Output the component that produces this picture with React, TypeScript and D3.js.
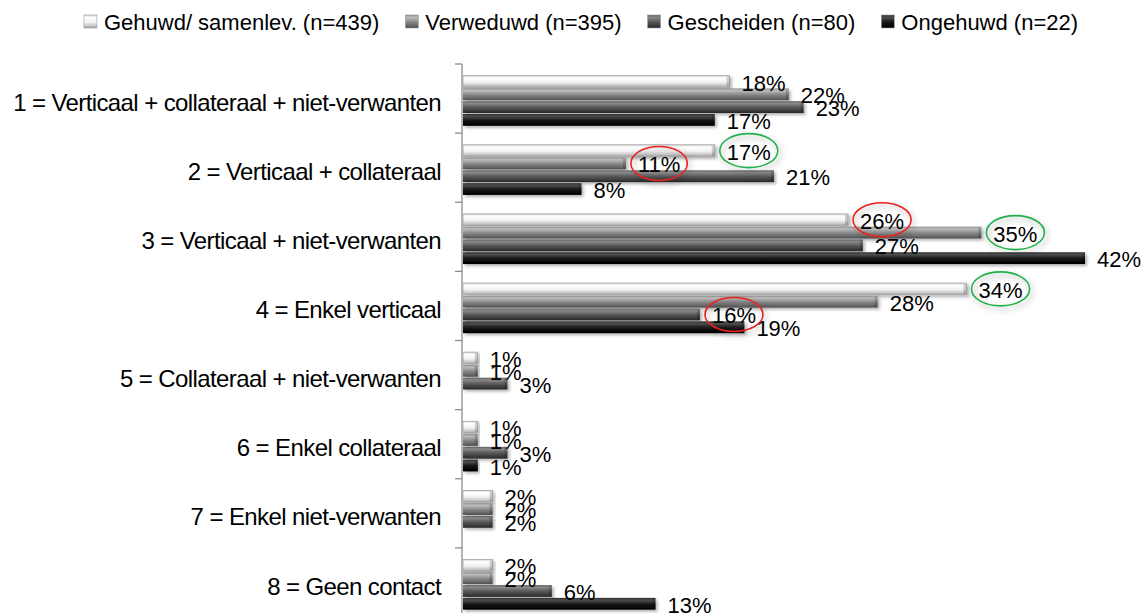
import React, { useEffect, useRef } from "react";
import * as d3 from "d3";

const categories = [
  "1 = Verticaal + collateraal + niet-verwanten",
  "2 = Verticaal + collateraal",
  "3 = Verticaal + niet-verwanten",
  "4 = Enkel verticaal",
  "5 = Collateraal + niet-verwanten",
  "6 = Enkel collateraal",
  "7 = Enkel niet-verwanten",
  "8 = Geen contact",
];

const seriesNames = [
  "Gehuwd/ samenlev. (n=439)",
  "Verweduwd (n=395)",
  "Gescheiden (n=80)",
  "Ongehuwd (n=22)",
];

const gehuwd = [18, 17, 26, 34, 1, 1, 2, 2];
const verweduwd = [22, 11, 35, 28, 1, 1, 2, 2];
const gescheiden = [23, 21, 27, 16, 3, 3, 2, 6];
const ongehuwd = [17, 8, 42, 19, 0, 1, 0, 13];

const seriesValues = [gehuwd, verweduwd, gescheiden, ongehuwd];

// highlighted labels: [category index, series index, colour]
const highlights: [number, number, string][] = [
  [1, 0, "#22b14c"],
  [1, 1, "#e8231f"],
  [2, 0, "#e8231f"],
  [2, 1, "#22b14c"],
  [3, 0, "#22b14c"],
  [3, 2, "#e8231f"],
];

const gradients = [
  [["0", "#cfcfcf"], ["0.18", "#ffffff"], ["0.55", "#f2f2f2"], ["0.85", "#c4c4c4"], ["1", "#9a9a9a"]],
  [["0", "#8c8c8c"], ["0.18", "#bdbdbd"], ["0.55", "#868686"], ["0.85", "#646464"], ["1", "#4a4a4a"]],
  [["0", "#5e5e5e"], ["0.18", "#8a8a8a"], ["0.55", "#555555"], ["0.85", "#383838"], ["1", "#262626"]],
  [["0", "#2a2a2a"], ["0.18", "#505050"], ["0.55", "#161616"], ["0.85", "#050505"], ["1", "#000000"]],
];

const W = 1144;
const H = 613;

export default function App() {
  const ref = useRef<SVGSVGElement | null>(null);

  useEffect(() => {
    const svg = d3.select(ref.current);
    svg.selectAll("*").remove();
    const font = "'Liberation Sans', Arial, Helvetica, sans-serif";

    const defs = svg.append("defs");
    gradients.forEach((stops, i) => {
      const g = defs
        .append("linearGradient")
        .attr("id", "grad" + i)
        .attr("x1", 0)
        .attr("y1", 0)
        .attr("x2", 0)
        .attr("y2", 1);
      stops.forEach(([o, c]) => g.append("stop").attr("offset", o).attr("stop-color", c));
    });
    const sh = defs.append("filter").attr("id", "shadow").attr("x", "-10%").attr("y", "-50%").attr("width", "120%").attr("height", "220%");
    sh.append("feDropShadow").attr("dx", 2).attr("dy", 2).attr("stdDeviation", 1.6).attr("flood-color", "#000").attr("flood-opacity", 0.3);
    const esh = defs.append("filter").attr("id", "eshadow").attr("x", "-40%").attr("y", "-40%").attr("width", "180%").attr("height", "200%");
    esh.append("feDropShadow").attr("dx", 2).attr("dy", 3).attr("stdDeviation", 3).attr("flood-color", "#000").attr("flood-opacity", 0.35);

    const x = d3.scaleLinear().domain([0, 45]).range([463, 463 + 45 * 14.81]);
    const y0 = d3
      .scaleBand<string>()
      .domain(categories)
      .range([64, 617])
      .paddingInner(0.26)
      .paddingOuter(0.13)
      .align(0.62);
    const y1 = d3
      .scaleBand<number>()
      .domain(d3.range(seriesNames.length))
      .range([0, y0.bandwidth()]);
    const step = y0.step();

    // axis
    const ax = svg.append("g");
    ax.append("line")
      .attr("x1", 462).attr("x2", 462)
      .attr("y1", 64).attr("y2", H)
      .attr("stroke", "#8c8c8c").attr("stroke-width", 1.3);
    d3.range(categories.length + 1).forEach((i) => {
      const ty = 64 + i * step;
      ax.append("line")
        .attr("x1", 455).attr("x2", 462)
        .attr("y1", ty).attr("y2", ty)
        .attr("stroke", "#8c8c8c").attr("stroke-width", 1.3);
    });

    // category labels
    svg.append("g")
      .selectAll("text")
      .data(categories)
      .join("text")
      .attr("x", 441)
      .attr("y", (d) => (y0(d) as number) + y0.bandwidth() / 2 + 10)
      .attr("text-anchor", "end")
      .attr("font-family", font)
      .attr("font-size", 24)
      .attr("letter-spacing", "-0.6")
      .attr("fill", "#000")
      .text((d) => d);

    // bars
    const bars = svg.append("g");
    categories.forEach((c, ci) => {
      seriesValues.forEach((vals, si) => {
        const v = vals[ci];
        if (!v) return;
        const by = (y0(c) as number) + (y1(si) as number);
        const bh = y1.bandwidth();
        bars.append("rect")
          .attr("x", x(0))
          .attr("y", by + 0.5)
          .attr("width", x(v) - x(0))
          .attr("height", bh - 1)
          .attr("fill", `url(#grad${si})`)
          .attr("stroke", si === 0 ? "#a8a8a8" : "none")
          .attr("stroke-width", 0.8)
          .attr("filter", "url(#shadow)");
        // end bevel
        bars.append("rect")
          .attr("x", x(v) - 3)
          .attr("y", by + 1.5)
          .attr("width", 3)
          .attr("height", bh - 3)
          .attr("fill", "#000")
          .attr("opacity", 0.18);
      });
    });

    // value labels
    const labels = svg.append("g");
    const labelNodes: Record<string, SVGTextElement> = {};
    categories.forEach((c, ci) => {
      seriesValues.forEach((vals, si) => {
        const v = vals[ci];
        if (!v) return;
        const by = (y0(c) as number) + (y1(si) as number) + y1.bandwidth() / 2;
        const t = labels.append("text")
          .attr("x", x(v) + 12)
          .attr("y", by + 9)
          .attr("font-family", font)
          .attr("font-size", 22)
          .attr("fill", "#000")
          .text(v + "%");
        labelNodes[ci + "_" + si] = t.node() as SVGTextElement;
      });
    });

    // highlight ellipses
    const hl = svg.append("g");
    highlights.forEach(([ci, si, col]) => {
      const node = labelNodes[ci + "_" + si];
      if (!node) return;
      const bb = node.getBBox();
      const cy = (y0(categories[ci]) as number) + (y1(si) as number) + y1.bandwidth() / 2;
      hl.append("ellipse")
        .attr("cx", bb.x + bb.width / 2)
        .attr("cy", cy)
        .attr("rx", bb.width / 2 + 7)
        .attr("ry", 17)
        .attr("fill", "none")
        .attr("stroke", col)
        .attr("stroke-width", 1.6)
        .attr("filter", "url(#eshadow)");
    });

    // legend
    const lg = svg.append("g");
    const items: { g: any; w: number }[] = [];
    seriesNames.forEach((name, i) => {
      const g = lg.append("g");
      g.append("rect")
        .attr("x", 0).attr("y", 15)
        .attr("width", 13).attr("height", 13)
        .attr("fill", `url(#grad${i})`)
        .attr("stroke", "#9a9a9a").attr("stroke-width", 0.6);
      const t = g.append("text")
        .attr("x", 20).attr("y", 30)
        .attr("font-family", font)
        .attr("font-size", 22)
        .attr("fill", "#000")
        .text(name);
      const w = 20 + (t.node() as SVGTextElement).getComputedTextLength();
      items.push({ g, w });
    });
    const gap = 26;
    const total = d3.sum(items, (d) => d.w) + gap * (items.length - 1);
    let cx = 581 - total / 2;
    items.forEach((it) => {
      it.g.attr("transform", `translate(${cx},0)`);
      cx += it.w + gap;
    });
  }, []);

  return (
    <svg
      ref={ref}
      width={W}
      height={H}
      style={{ position: "absolute", left: 0, top: 0, background: "#fff" }}
    />
  );
}
